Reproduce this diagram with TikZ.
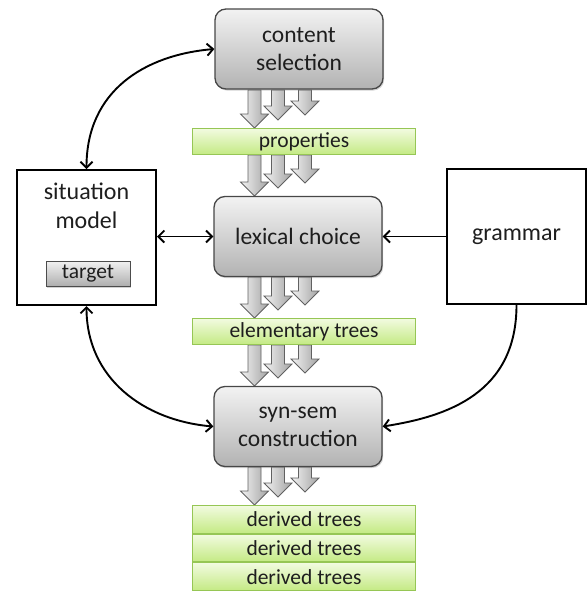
\documentclass[tikz,border=0pt]{standalone}
\usepackage{fontspec}
\setmainfont{Carlito}
\usetikzlibrary{shadows,arrows.meta,calc}
\definecolor{barborder}{RGB}{150,198,85}
\definecolor{bartop}{RGB}{242,251,224}
\definecolor{barbottom}{RGB}{196,234,132}
\definecolor{txt}{RGB}{30,30,30}
\newcommand{\blkarrow}[3]{%
  \draw[blockarrow] (#1-6.5,#2) -- (#1-6.5,#3-14) -- (#1-14,#3-14) -- (#1,#3) -- (#1+14,#3-14) -- (#1+6.5,#3-14) -- (#1+6.5,#2) -- cycle;}
\newcommand{\triarrows}[2]{\blkarrow{254.5}{#1}{#2}\blkarrow{278}{#1}{#2-8}\blkarrow{305}{#1}{#2-13}}
\begin{document}
\begin{tikzpicture}[x=1pt,y=-1pt,
  blockarrow/.style={left color=black!5, right color=black!36, draw=black!62, line width=0.8pt},
  procbox/.style={draw=black!72, line width=1.3pt, rounded corners=11pt, top color=black!5, bottom color=black!30,
    drop shadow={shadow xshift=1.2pt,shadow yshift=-1.6pt,opacity=0.35},
    minimum width=168pt, minimum height=80pt, align=center, inner sep=0pt,
    font=\fontsize{23.5}{28}\selectfont, text=txt},
  databar/.style={draw=barborder, line width=0.9pt, top color=bartop, bottom color=barbottom,
    minimum width=223pt, minimum height=26pt, inner sep=0pt, font=\fontsize{21.5}{24}\selectfont, text=txt},
  outerbox/.style={draw=black, line width=2pt, fill=white, minimum width=139pt, minimum height=135pt, inner sep=0pt},
  conn/.style={line width=1.9pt, black},
  barb/.tip={Straight Barb[length=6pt,width=12pt]}
]
\useasboundingbox (0,0) rectangle (588,592);

% block arrows
\triarrows{90}{128}
\triarrows{155}{196}
\triarrows{277}{318}
\triarrows{345}{386}
\triarrows{467}{505}

% process boxes
\node[procbox] (cs) at (299,49) {content\\selection};
\node[procbox] (lex) at (298,236.5) {lexical choice};
\node[procbox] (syn) at (298,426.5) {syn-sem\\construction};

% data bars
\node[databar] (prop) at (304,141.5) {properties};
\node[databar] (elem) at (304,331.5) {elementary trees};
\node[databar, minimum height=27.7pt] (der1) at (304,519.3) {derived trees};
\node[databar, minimum height=27.7pt] (der2) at (304,548) {derived trees};
\node[databar, minimum height=27.7pt] (der3) at (304,576.7) {derived trees};

% situation model
\node[outerbox] (sit) at (86.5,237.5) {};
\node[anchor=base, font=\fontsize{24}{28}\selectfont, text=txt] (sit1) at (86.5,199) {situation};
\node[anchor=base, font=\fontsize{24}{28}\selectfont, text=txt] (sit2) at (86.5,228) {model};
\node[draw=black!70, line width=1pt, top color=black!6, bottom color=black!32, minimum width=84pt, minimum height=25pt,
  inner sep=0pt, font=\fontsize{21.5}{24}\selectfont, text=txt,
  drop shadow={shadow xshift=1pt,shadow yshift=-1.2pt,opacity=0.35}] (tgt) at (88,274) {target};

% grammar
\node[outerbox, font=\fontsize{24}{28}\selectfont, text=txt] (gram) at (516.5,236.5) {grammar};

% connectors
\draw[conn, barb-barb]
  (sit.north) .. controls +(0,-78) and +(-70,6) .. (cs.west);
\draw[conn, barb-barb]
  (sit.south) .. controls +(0,72) and +(-70,-6) .. (syn.west);
\draw[conn, barb-barb]
  (sit.east |- lex.west) -- (lex.west);
\draw[conn, -barb] (gram.west) -- (lex.east);
\draw[conn, -barb]
  (gram.south) .. controls +(0,88) and +(65,-10) .. (syn.east);
\end{tikzpicture}
\end{document}
